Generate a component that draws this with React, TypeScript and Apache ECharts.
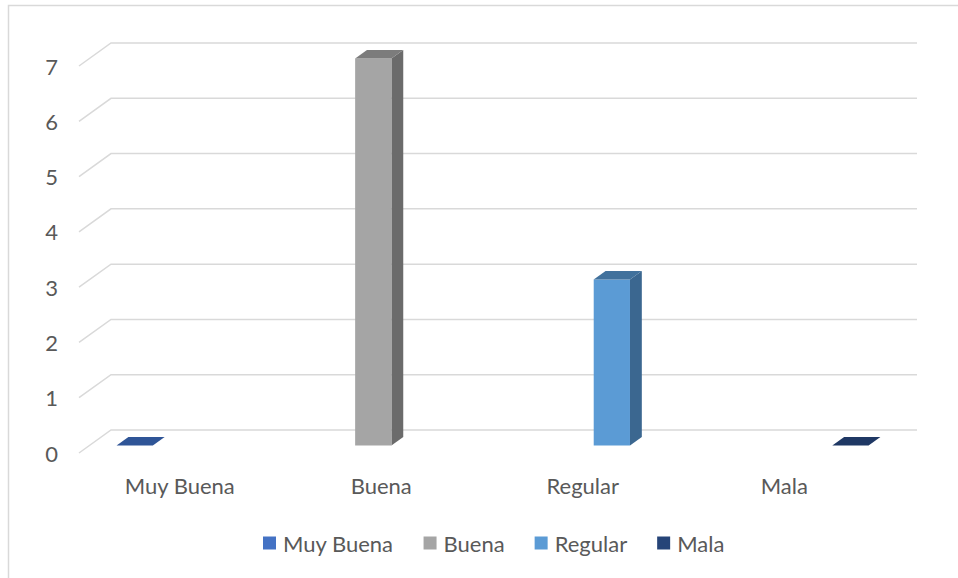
import React, { useEffect, useRef } from "react";
import * as echarts from "echarts";

const categories = ["Muy Buena", "Buena", "Regular", "Mala"];
const seriesNames = ["Muy Buena", "Buena", "Regular", "Mala"];
const muyBuenaValues: (number | null)[] = [0, null, null, null];
const buenaValues: (number | null)[] = [null, 7, null, null];
const regularValues: (number | null)[] = [null, null, 3, null];
const malaValues: (number | null)[] = [null, null, null, 0];
const yTicks = [0, 1, 2, 3, 4, 5, 6, 7];

const seriesValues = [muyBuenaValues, buenaValues, regularValues, malaValues];
const frontColors = ["#4472C4", "#A5A5A5", "#5B9BD5", "#264478"];
const topColors = ["#2F5597", "#7C7C7C", "#41719C", "#1F3864"];
const sideColors = ["#2A4D88", "#6B6B6B", "#3B6790", "#1B3159"];

const FONT = "Lato";
const FONT_SIZE = 22;
const TEXT = "#595959";
const DEPTH_X = 32;
const DEPTH_Y = -23;
const F_FRONT = 0.33;
const F_BACK = 0.7;
const BAR_W_RATIO = 0.18;
const SLOT_RATIO = 0.184;

export default function App() {
  const ref = useRef<HTMLDivElement>(null);
  useEffect(() => {
    if (!ref.current) return;
    const chart = echarts.init(ref.current, undefined, { renderer: "svg" });

    const gridSeries: any = {
      type: "custom",
      name: "__grid",
      silent: true,
      z: 1,
      data: yTicks.map((v) => [0, v]),
      encode: { x: 0, y: 1 },
      renderItem: (params: any, api: any) => {
        const cs = params.coordSys;
        const y = api.coord([0, api.value(1)])[1];
        const x = cs.x;
        return {
          type: "polyline",
          shape: {
            points: [
              [x, y],
              [x + DEPTH_X, y + DEPTH_Y],
              [x + cs.width + DEPTH_X, y + DEPTH_Y],
            ],
          },
          style: { stroke: "#D9D9D9", lineWidth: 1.5, fill: "none" },
        };
      },
    };

    const barSeries = seriesValues.map((vals, si) => ({
      type: "custom",
      name: seriesNames[si],
      z: 2,
      itemStyle: { color: frontColors[si] },
      data: vals
        .map((v, ci) => (v === null ? null : [ci, v]))
        .filter((d) => d !== null),
      encode: { x: 0, y: 1 },
      renderItem: (params: any, api: any) => {
        const ci = api.value(0);
        const v = api.value(1);
        const top = api.coord([ci, v]);
        const base = api.coord([ci, 0]);
        const catW = api.size([1, 0])[0];
        const w = catW * BAR_W_RATIO;
        const slot = catW * SLOT_RATIO;
        const fdx = DEPTH_X * F_FRONT;
        const fdy = DEPTH_Y * F_FRONT;
        const ddx = DEPTH_X * (F_BACK - F_FRONT);
        const ddy = DEPTH_Y * (F_BACK - F_FRONT);
        const cx = top[0] + (si - 1.5) * slot + fdx;
        const x0 = cx - w / 2;
        const x1 = cx + w / 2;
        const yT = top[1] + fdy;
        const yB = base[1] + fdy;
        const children: any[] = [];
        if (yB - yT > 0.5) {
          children.push({
            type: "polygon",
            shape: { points: [[x1, yT], [x1 + ddx, yT + ddy], [x1 + ddx, yB + ddy], [x1, yB]] },
            style: { fill: sideColors[si] },
          });
          children.push({
            type: "rect",
            shape: { x: x0, y: yT, width: w, height: yB - yT },
            style: { fill: frontColors[si] },
          });
        }
        children.push({
          type: "polygon",
          shape: { points: [[x0, yT], [x0 + ddx, yT + ddy], [x1 + ddx, yT + ddy], [x1, yT]] },
          style: { fill: topColors[si] },
        });
        return { type: "group", children };
      },
    }));

    chart.setOption({
      animation: false,
      backgroundColor: "#FFFFFF",
      textStyle: { fontFamily: FONT },
      graphic: [
        {
          type: "rect",
          shape: { x: 8.5, y: 5.5, width: 1000, height: 1000 },
          style: { fill: "none", stroke: "#D9D9D9", lineWidth: 1.5 },
          silent: true,
          z: 0,
        },
      ],
      grid: { left: 79, right: 73, top: 66, bottom: 125, containLabel: false },
      xAxis: {
        type: "category",
        data: categories,
        axisLine: { show: false },
        axisTick: { show: false },
        splitLine: { show: false },
        axisLabel: { color: TEXT, fontSize: FONT_SIZE, fontFamily: FONT, margin: 21 },
      },
      yAxis: {
        type: "value",
        min: 0,
        max: 7,
        interval: 1,
        axisLine: { show: false },
        axisTick: { show: false },
        splitLine: { show: false },
        axisLabel: { color: TEXT, fontSize: FONT_SIZE, fontFamily: FONT, margin: 21 },
      },
      legend: {
        data: seriesNames,
        left: 263,
        top: 532,
        padding: 0,
        icon: "rect",
        itemWidth: 13,
        itemHeight: 13,
        itemGap: 30,
        textStyle: { color: TEXT, fontSize: FONT_SIZE, fontFamily: FONT, padding: [0, 0, 0, 2] },
      },
      series: [gridSeries, ...barSeries],
    });
    return () => chart.dispose();
  }, []);
  return (
    <div
      ref={ref}
      style={{ position: "fixed", left: 0, top: 0, width: 958, height: 578 }}
    />
  );
}
